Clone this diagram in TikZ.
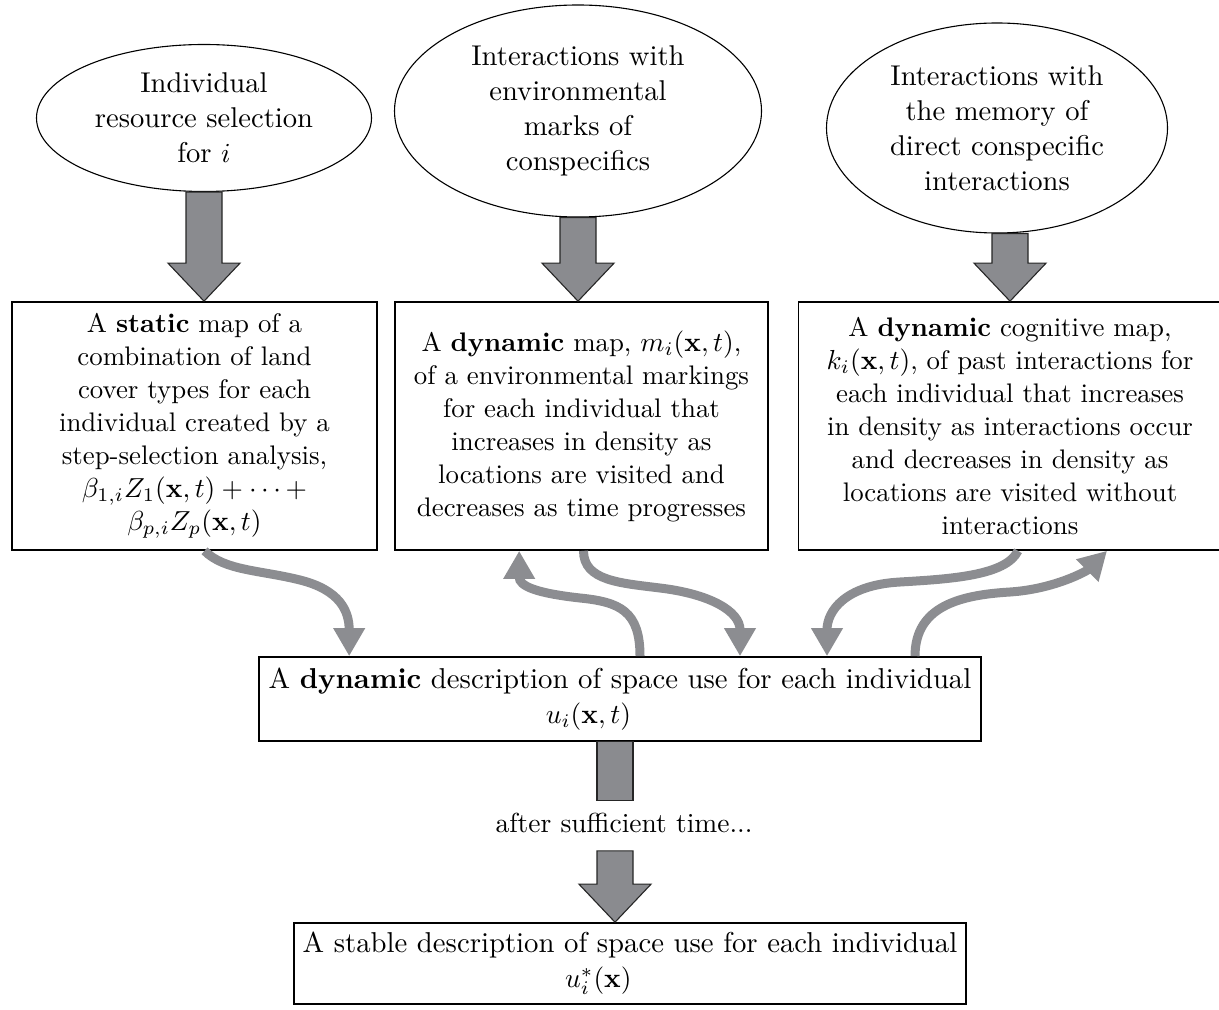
\documentclass[tikz,border=0pt]{standalone}
\usepackage{amsmath}
\usepackage{amssymb}
\usepackage{tikz}
\usetikzlibrary{shapes.geometric,calc,arrows.meta}

\newlength\px
\setlength\px{0.3636pt}

\definecolor{arrgray}{RGB}{138,139,143}
\definecolor{curvegray}{RGB}{140,141,145}

\tikzset{
	source/.style={ellipse, draw, line width=0.4pt, fill=white, align=center, inner sep=0pt,
		font=\fontsize{10.4pt}{12.7pt}\selectfont},
	mapbox/.style={draw, line width=0.6pt, fill=white, align=center, inner sep=0pt,
		font=\fontsize{9.76pt}{12pt}\selectfont},
	usebox/.style={mapbox, font=\fontsize{10.45pt}{12.7pt}\selectfont},
	fatarr/.style={draw=black!85, fill=arrgray, line width=0.4pt},
	feed/.style={draw=curvegray, line width=9\px, -{Triangle[width=10.9pt,length=10.2pt]}}
}

% big block arrow: shaft starts at the height of #1, tip at #2
\newcommand{\fatarrow}[2]{%
	\draw[fatarr] ($(#1 -| #2)+(-18,0)$) -- ($(#2)+(-18,-38)$) -- ($(#2)+(-36,-38)$) -- (#2)
		-- ($(#2)+(36,-38)$) -- ($(#2)+(18,-38)$) -- ($(#1 -| #2)+(18,0)$) -- cycle;}

\begin{document}
\begin{tikzpicture}[x=1\px, y=-1\px]
			\useasboundingbox (0,0) rectangle (1219,1009);
			% sources
			\node[source, minimum width=335\px, minimum height=147\px] (e1) at (204,118) {Individual\\resource selection\\for $i$};
			\node[source, minimum width=367\px, minimum height=212\px] (e2) at (578,111) {Interactions with\\environmental\\marks of\\conspecifics};
			\node[source, minimum width=341\px, minimum height=210\px] (e3) at (997,128) {Interactions with\\the memory of\\direct conspecific\\interactions};
			% maps
			\node[mapbox, minimum width=365\px, minimum height=248\px] (b1) at (194.5,426) {A \textbf{static} map of a\\combination of land\\cover types for each\\individual created by a\\step-selection analysis,\\$\beta_{1,i}Z_1(\mathbf{x},t)+\cdots+$\\$\beta_{p,i}Z_p(\mathbf{x},t)$};
			\node[mapbox, minimum width=373\px, minimum height=248\px] (b2) at (581.5,426) {A \textbf{dynamic} map, $m_i(\mathbf{x},t)$,\\of a environmental markings\\for each individual that\\increases in density as\\locations are visited and\\decreases as time progresses};
			\node[mapbox, minimum width=423\px, minimum height=248\px] (b3) at (1010,426) {A \textbf{dynamic} cognitive map,\\$k_i(\mathbf{x},t)$, of past interactions for\\each individual that increases\\in density as interactions occur\\and decreases in density as\\locations are visited without\\interactions};
			% space use
			\node[usebox, minimum width=722\px, minimum height=84\px] (use) at (620,699) {A \textbf{dynamic} description of space use for each individual\\\hspace*{-23pt}$u_i(\mathbf{x},t)$};
			\node[usebox, minimum width=672\px, minimum height=81\px] (stable) at (630,963.5) {A stable description of space use for each individual\\\hspace*{-23pt}$u_i^*(\mathbf{x})$};
			\node (wait) at (624,823) {after sufficient time...};
			% block arrows
			\coordinate (t1) at (e1.south |- b1.north);
			\coordinate (t2) at (e2.south |- b2.north);
			\coordinate (t3) at (b3.north);
			\fatarrow{e1.south}{t1}
			\fatarrow{e2.south}{t2}
			\fatarrow{e3.south}{t3}
			\coordinate (t4) at ($(stable.north)+(-15,0)$);
			\coordinate (s4) at (t4 |- use.south);
			\coordinate (a4) at ($(s4)+(0,109)$);
			\draw[fatarr] ($(s4)+(-18,0)$) rectangle ($(s4)+(18,59)$);
			\fatarrow{a4}{t4}
			% feedback arrows
			\coordinate (c1s) at ($(b1.south)+(10,0)$);
			\coordinate (c1e) at ($(use.north west)+(91,0)$);
			\coordinate (c2s) at ($(use.north)+(20,0)$);
			\coordinate (c2e) at ($(b2.south west)+(125,0)$);
			\coordinate (c3s) at ($(b2.south)+(2,0)$);
			\coordinate (c3e) at ($(use.north)+(120,0)$);
			\coordinate (c4s) at ($(b3.south)+(8,0)$);
			\coordinate (c4e) at ($(use.north)+(207,0)$);
			\coordinate (c5s) at ($(use.north)+(295,0)$);
			\coordinate (c5e) at ($(b3.south)+(97,0)$);
			\draw[feed] (c1s) .. controls +(20,20) and +(-40,-10) .. (300,580) .. controls +(40,10) and +(0,-45) .. (c1e);
			\draw[feed] (c2s) .. controls +(0,-45) and +(40,4) .. (580,598) .. controls +(-45,-5) and +(0,35) .. (c2e);
			\draw[feed] (c3s) .. controls +(0,30) and +(-40,-5) .. (660,588) .. controls +(50,6) and +(0,-45) .. (c3e);
			\draw[feed] (c4s) .. controls +(-12,25) and +(50,-3) .. (900,582) .. controls +(-55,3) and +(0,-45) .. (c4e);
			\draw[feed] (c5s) .. controls +(0,-50) and +(-50,3) .. (1010,592) .. controls +(45,-3) and +(-20,20) .. (c5e);
		\end{tikzpicture}
\end{document}
